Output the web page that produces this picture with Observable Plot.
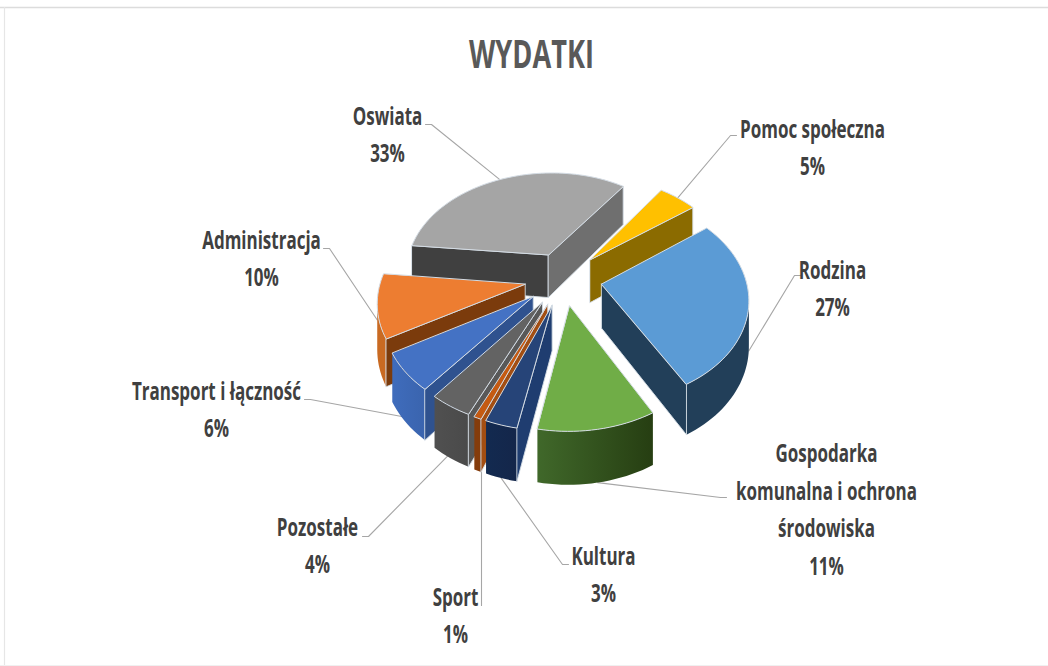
<!DOCTYPE html>
<html><head><meta charset="utf-8">
<script src="https://cdn.jsdelivr.net/npm/d3@7"></script>
<script src="https://cdn.jsdelivr.net/npm/@observablehq/plot@0.6"></script>
<style>html,body{margin:0;padding:0;background:#fff}svg{display:block}</style>
</head><body><div id="chart"></div>
<script>
// data
const categories=["Pomoc społeczna","Rodzina","Gospodarka\nkomunalna i ochrona\nśrodowiska","Kultura","Sport","Pozostałe","Transport i łączność","Administracja","Oswiata"];
const values=[5,27,11,3,0.7,4,6,10,33];
// colours per slice: top, start face, end face, rim right, rim left
const topColors=["#FFC000","#5B9BD5","#70AD47","#264478","#C55A11","#636363","#4472C4","#ED7D31","#A5A5A5"];
const startFace=["#7F6000","#1F3D58","#2A4215","#1F3D70","#A34E12","#585858","#2F528F","#7B3B0C","#404040"];
const endFace=["#8B6B00","#223F59","#385723","#132A50","#843C0C","#4A4A4A","#2F528F","#7B3B0C","#6F6F6F"];
const rimA=["#7F6000","#223F59","#263E12","#14264A","#843C0C","#4A4A4A","#3A64AE","#C96A22","#606060"];
const rimB=["#7F6000","#223F59","#40682A","#132A50","#843C0C","#505050","#3F6CBC","#C96A22","#606060"];
// leader end and label placement
const labelX=[812,832,826,603,455,317,216,261,387];
const labelY=[144,285,506,571,612,542,406,255,131];
const leaderX=[736,800,726,568,481,362,304,323,425];
const leaderY=[135,275,497,564,605,536,399,248,124];
const leaderDepth=[0,1,1,1,0.9,0.9,0.9,0.3,0];

// projection
const cx=563,cy=278,A=155,B=107,k=0.15,S=2,H=44,explode=0.25,r=0.93,start=35*Math.PI/180;
const project=(X,Y,z)=>{const w=1/(1+k*Y);return {x:cx+(A*X+S*Y)*w,y:cy-B*Y*w+z*H*w};};
const area=p=>d3.sum(p,(a,i)=>{const b=p[(i+1)%p.length];return a.x*b.y-b.x*a.y;});
const arcs=d3.pie().sort(null).startAngle(start).endAngle(start+2*Math.PI)(values);

const defs=()=>{
  const d=d3.create("svg:defs");
  rimA.forEach((c,i)=>{
    const g=d.append("linearGradient").attr("id","rim"+i);
    g.append("stop").attr("offset","0").attr("stop-color",rimB[i]);
    g.append("stop").attr("offset","1").attr("stop-color",c);
  });
  return d.node();
};
const marks=[defs,
  Plot.ruleY([7],{stroke:"#dcdcdc",strokeWidth:1.5}),
  Plot.ruleX([4],{y1:7,y2:665,stroke:"#e6e6e6",strokeWidth:1.2}),
  Plot.ruleY([665],{stroke:"#f0f0f0",strokeWidth:1.2})];
const order=d3.range(values.length).sort((a,b)=>Math.cos((arcs[b].startAngle+arcs[b].endAngle)/2)-Math.cos((arcs[a].startAngle+arcs[a].endAngle)/2));
const apexOf=a=>{const m=(a.startAngle+a.endAngle)/2;return [explode*Math.sin(m),explode*Math.cos(m)];};
const rimPt=(a,t,z)=>{const [ax,ay]=apexOf(a);return project(ax+r*Math.sin(t),ay+r*Math.cos(t),z);};
const poly=(pts,fill,stroke,sw)=>Plot.line(pts,{x:"x",y:"y",curve:"linear-closed",fill,stroke:stroke||"none",strokeWidth:sw});
const light="#d4dce4";

// leaders first, the pie paints over them
arcs.forEach((a,i)=>{
  const m=(a.startAngle+a.endAngle)/2, e=rimPt(a,m,leaderDepth[i]);
  const dx=Math.abs(e.x-leaderX[i])<8?0:(e.x>leaderX[i]?6:-6);
  marks.push(Plot.line([{x:leaderX[i],y:leaderY[i]},{x:leaderX[i]+dx,y:leaderY[i]},dx?e:{x:leaderX[i],y:e.y}],{x:"x",y:"y",stroke:"#a6a6a6",strokeWidth:1.1}));
});

order.forEach(i=>{
  const a=arcs[i],[ax,ay]=apexOf(a);
  const ap0=project(ax,ay,0),ap1=project(ax,ay,1);
  const n=Math.ceil((a.endAngle-a.startAngle)/(2*Math.PI/180));
  const ts=d3.range(n+1).map(j=>a.startAngle+(a.endAngle-a.startAngle)*j/n);
  const topEdge=[],botEdge=[];
  for(let j=0;j<n;j++){
    const q=[rimPt(a,ts[j+1],0),rimPt(a,ts[j],0),rimPt(a,ts[j],1),rimPt(a,ts[j+1],1)];
    if(area(q)>0){
      if(!topEdge.length){topEdge.push(q[1]);botEdge.push(q[2]);}
      topEdge.push(q[0]);botEdge.push(q[3]);
    }
  }
  if(topEdge.length)marks.push(poly([...topEdge,...botEdge.reverse()],`url(#rim${i})`));
  const s0=rimPt(a,a.startAngle,0),s1=rimPt(a,a.startAngle,1),e0=rimPt(a,a.endAngle,0),e1=rimPt(a,a.endAngle,1);
  const fs=[s0,ap0,ap1,s1],fe=[ap0,e0,e1,ap1];
  if(area(fs)>0)marks.push(poly(fs,startFace[i],light,0.9));
  if(area(fe)>0)marks.push(poly(fe,endFace[i],light,0.9));
  const tp=[ap0,...ts.map(t=>rimPt(a,t,0))];
  marks.push(poly(tp,topColors[i],light,1));
});

// labels
const font="'Open Sans',sans-serif";
const labels=categories.map((c,i)=>({t:c+"\n"+Math.round(values[i])+"%",x:labelX[i],y:labelY[i]}));
marks.push(Plot.text(labels,{x:"x",y:"y",text:"t",fontSize:25,fontWeight:700,fontFamily:font,fill:"#404040",lineHeight:1.5}));
marks.push(Plot.text(["WYDATKI"],{x:()=>531,y:()=>55,text:d=>d,fontSize:40,fontWeight:700,fontFamily:font,fill:"#595959"}));

const svg=Plot.plot({width:1048,height:666,margin:0,x:{domain:[0,1048],range:[0,1048],axis:null},y:{domain:[0,666],range:[0,666],axis:null},marks});
// the reference lettering is tall and narrow
d3.select(svg).selectAll("text").attr("transform",function(){return (this.getAttribute("transform")||"")+" scale(0.68,1)";});
document.getElementById("chart").append(svg);
</script></body></html>
